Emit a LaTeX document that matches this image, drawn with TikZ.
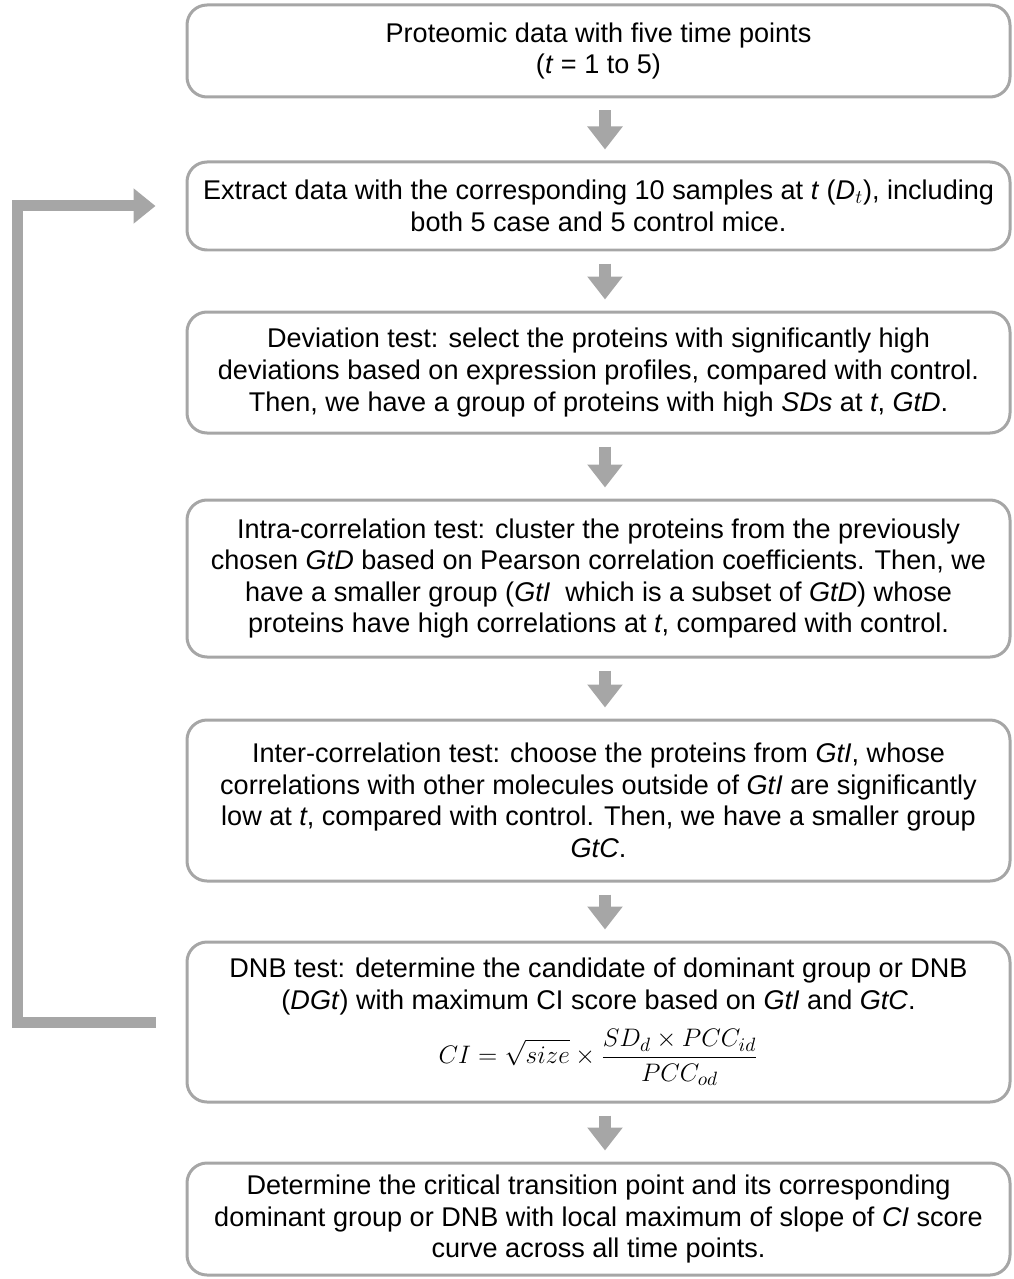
\documentclass[tikz,border=0pt]{standalone}
\usepackage{fontspec}
\setmainfont{Liberation Sans}
\usepackage{amsmath}
\usetikzlibrary{arrows.meta,calc}
\definecolor{boxgray}{RGB}{166,166,166}

\begin{document}
\begin{tikzpicture}[
      box/.style={draw=boxgray, line width=0.06cm, rounded corners=0.4cm,
                  align=center, inner sep=0pt, minimum width=16.46cm,
                  font=\fontsize{15.4}{18}\selectfont},
      arr/.style={-{Triangle[width=0.68cm,length=0.46cm]}, line width=0.24cm,
                  boxgray, shorten <=0.24cm, shorten >=0.22cm},
      back/.style={-{Triangle[width=0.68cm,length=0.44cm]}, line width=0.22cm,
                   boxgray}
    ]
    \useasboundingbox (0,0) rectangle (20.26,-25.58);
    % the seven steps, top to bottom
    \node[box, minimum height=1.84cm] (s1) at (11.97,-1.02) {%
      Proteomic data with five time points\\
      (\textit{t} = 1 to 5)};
    \node[box, minimum height=1.76cm] (s2) at (11.97,-4.12) {%
      Extract data with the corresponding 10 samples at \textit{t} (\textit{D$_t$}), including\\
      both 5 case and 5 control mice.};
    \node[box, minimum height=2.42cm] (s3) at (11.97,-7.45) {%
      Deviation test: select the proteins with significantly high\\
      deviations based on expression profiles, compared with control.\\
      Then, we have a group of proteins with high \textit{SDs} at \textit{t}, \textit{GtD}.};
    \node[box, minimum height=3.14cm] (s4) at (11.97,-11.57) {%
      Intra-correlation test: cluster the proteins from the previously\\
      chosen \textit{GtD} based on Pearson correlation coefficients. Then, we\\
      have a smaller group (\textit{GtI}\ \ which is a subset of \textit{GtD}) whose\\
      proteins have high correlations at \textit{t}, compared with control.};
    \node[box, minimum height=3.22cm] (s5) at (11.97,-16.01) {%
      Inter-correlation test: choose the proteins from \textit{GtI}, whose\\
      correlations with other molecules outside of \textit{GtI} are significantly\\
      low at \textit{t}, compared with control. Then, we have a smaller group\\
      \textit{GtC}.};
    \node[box, minimum height=3.20cm] (s6) at (11.97,-20.44) {%
      DNB test: determine the candidate of dominant group or DNB\\
      (\textit{DGt}) with maximum CI score based on \textit{GtI} and \textit{GtC}.\\[7pt]
      $\displaystyle CI=\sqrt{size}\times\frac{SD_d\times PCC_{id}}{PCC_{od}}$};
    \node[box, minimum height=2.24cm] (s7) at (11.97,-24.38) {%
      Determine the critical transition point and its corresponding\\
      dominant group or DNB with local maximum of slope of \textit{CI} score\\
      curve across all time points.};

    \draw[arr] ($(s1.south)+(0.13,0)$) -- ($(s2.north)+(0.13,0)$);
    \draw[arr] ($(s2.south)+(0.13,0)$) -- ($(s3.north)+(0.13,0)$);
    \draw[arr] ($(s3.south)+(0.13,0)$) -- ($(s4.north)+(0.13,0)$);
    \draw[arr] ($(s4.south)+(0.13,0)$) -- ($(s5.north)+(0.13,0)$);
    \draw[arr] ($(s5.south)+(0.13,0)$) -- ($(s6.north)+(0.13,0)$);
    \draw[arr] ($(s6.south)+(0.13,0)$) -- ($(s7.north)+(0.13,0)$);

    % loop back to the extraction step
    \coordinate (loopx) at (0.35,0);
    \draw[back, shorten <=0.6cm, shorten >=0.6cm]
      (s6.west) -- (s6.west -| loopx) |- (s2.west);
  \end{tikzpicture}
\end{document}
